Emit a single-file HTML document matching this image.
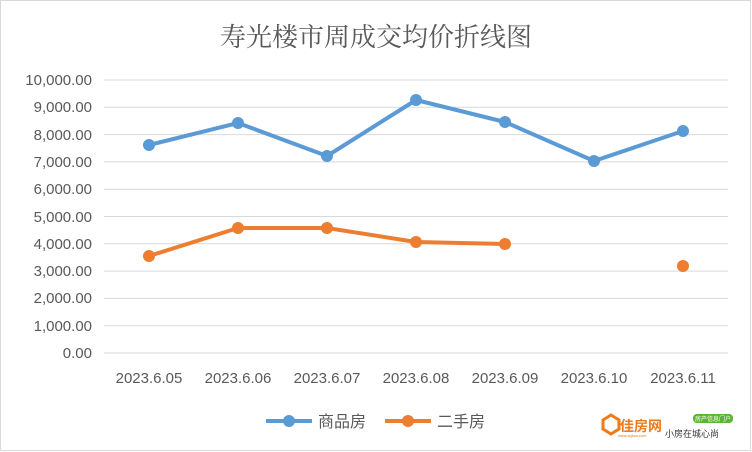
<!DOCTYPE html>
<html><head><meta charset="utf-8"><style>
body{margin:0;background:#fff}
svg{display:block}
text{font-family:"Liberation Sans","Noto Sans CJK SC",sans-serif;fill:#595959}
</style></head><body>
<svg width="752" height="452" viewBox="0 0 752 452">
<rect x="0.5" y="0.5" width="750" height="450" fill="#fff" stroke="#d9d9d9"/>
<text x="376" y="46" font-size="26" text-anchor="middle" style="font-family:'Noto Serif CJK SC',serif">寿光楼市周成交均价折线图</text>
<g stroke="#d9d9d9" stroke-width="1">
<line x1="104" x2="728" y1="80" y2="80"/><line x1="104" x2="728" y1="107.3" y2="107.3"/>
<line x1="104" x2="728" y1="134.6" y2="134.6"/><line x1="104" x2="728" y1="161.9" y2="161.9"/>
<line x1="104" x2="728" y1="189.2" y2="189.2"/><line x1="104" x2="728" y1="216.5" y2="216.5"/>
<line x1="104" x2="728" y1="243.8" y2="243.8"/><line x1="104" x2="728" y1="271.1" y2="271.1"/>
<line x1="104" x2="728" y1="298.4" y2="298.4"/><line x1="104" x2="728" y1="325.7" y2="325.7"/>
<line x1="104" x2="728" y1="353" y2="353"/>
</g>
<g font-size="15" text-anchor="end">
<text x="92" y="85">10,000.00</text><text x="92" y="112">9,000.00</text><text x="92" y="140">8,000.00</text>
<text x="92" y="167">7,000.00</text><text x="92" y="194">6,000.00</text><text x="92" y="222">5,000.00</text>
<text x="92" y="249">4,000.00</text><text x="92" y="276">3,000.00</text><text x="92" y="303">2,000.00</text>
<text x="92" y="331">1,000.00</text><text x="92" y="358">0.00</text>
</g>
<g font-size="15" text-anchor="middle">
<text x="149" y="383">2023.6.05</text><text x="238" y="383">2023.6.06</text><text x="327" y="383">2023.6.07</text>
<text x="416" y="383">2023.6.08</text><text x="505" y="383">2023.6.09</text><text x="594" y="383">2023.6.10</text>
<text x="683" y="383">2023.6.11</text>
</g>
<polyline points="149,145 238,123 327,156 416,100 505,122 594,161 683,131" fill="none" stroke="#5b9bd5" stroke-width="4" stroke-linejoin="round"/>
<g fill="#5b9bd5"><circle cx="149" cy="145" r="6"/><circle cx="238" cy="123" r="6"/><circle cx="327" cy="156" r="6"/><circle cx="416" cy="100" r="6"/><circle cx="505" cy="122" r="6"/><circle cx="594" cy="161" r="6"/><circle cx="683" cy="131" r="6"/></g>
<polyline points="149,256 238,228 327,228 416,242 505,244" fill="none" stroke="#ed7d31" stroke-width="4" stroke-linejoin="round"/>
<g fill="#ed7d31"><circle cx="149" cy="256" r="6"/><circle cx="238" cy="228" r="6"/><circle cx="327" cy="228" r="6"/><circle cx="416" cy="242" r="6"/><circle cx="505" cy="244" r="6"/><circle cx="683" cy="266" r="6"/></g>
<line x1="266" x2="312" y1="421" y2="421" stroke="#5b9bd5" stroke-width="4"/><circle cx="289" cy="421" r="6" fill="#5b9bd5"/>
<text x="318" y="427" font-size="16">商品房</text>
<line x1="385" x2="431" y1="421" y2="421" stroke="#ed7d31" stroke-width="4"/><circle cx="408" cy="421" r="6" fill="#ed7d31"/>
<text x="437" y="427" font-size="16">二手房</text>
<g>
<path d="M603,420 l8,-5 l8,5 v9 l-8,5 l-8,-5z" fill="none" stroke="#f07a1a" stroke-width="3"/>
<text x="620" y="431" font-size="14" font-weight="bold" style="fill:#f07a1a">佳房网</text>
<text x="618" y="437" font-size="4" style="fill:#f07a1a">www.sgfow.com</text>
<rect x="693" y="414" width="40" height="9" rx="4" fill="#5cb531"/>
<text x="713" y="421" font-size="6" text-anchor="middle" style="fill:#fff">房产信息门户</text>
<text x="665" y="437" font-size="9" style="fill:#333">小房在城心尚</text>
</g>
</svg>
</body></html>
